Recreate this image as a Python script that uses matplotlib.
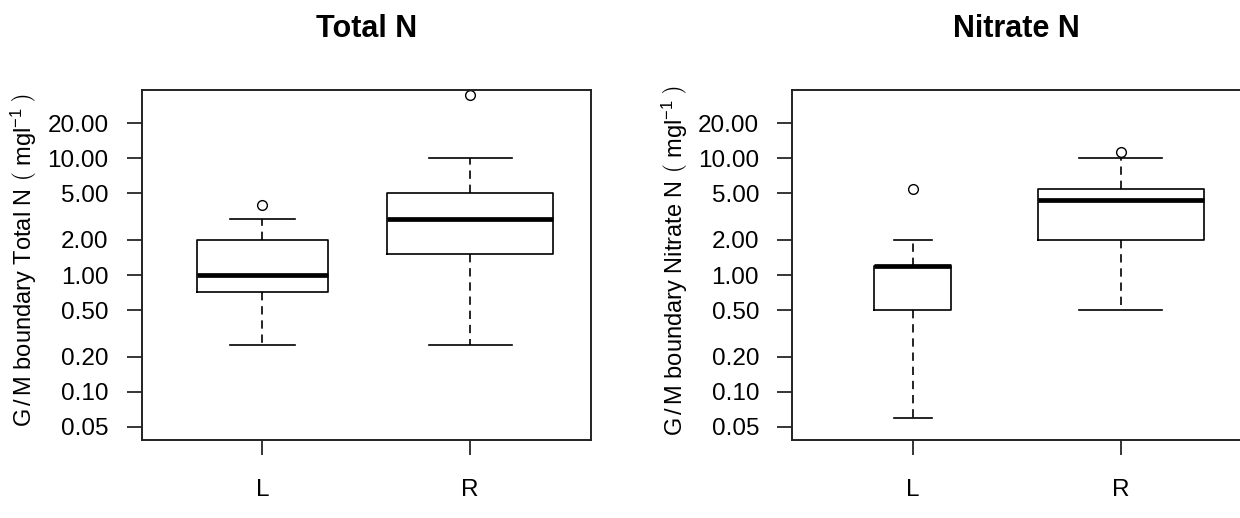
import matplotlib.pyplot as plt
from matplotlib.ticker import FixedLocator, NullLocator

plt.rcParams['font.family'] = ['Liberation Sans', 'DejaVu Sans']
plt.rcParams['mathtext.fontset'] = 'custom'
plt.rcParams['mathtext.rm'] = 'Liberation Sans'
plt.rcParams['mathtext.it'] = 'Liberation Sans'

groups = ['L', 'R']
yticks = [0.05, 0.1, 0.2, 0.5, 1, 2, 5, 10, 20]
ytick_labels = ['0.05', '0.10', '0.20', '0.50', '1.00', '2.00', '5.00', '10.00', '20.00']

# Total N
total_lo = [0.25, 0.25]
total_q1 = [0.72, 1.5]
total_med = [1.0, 3.0]
total_q3 = [2.0, 5.0]
total_hi = [3.0, 10.0]
total_out = [[4.0], [35.0]]
total_widths = [0.63, 0.8]

# Nitrate N
nitrate_lo = [0.06, 0.5]
nitrate_q1 = [0.5, 2.0]
nitrate_med = [1.2, 4.4]
nitrate_q3 = [1.2, 5.5]
nitrate_hi = [2.0, 10.0]
nitrate_out = [[5.5], [11.3]]
nitrate_widths = [0.37, 0.8]


def make_stats(lo, q1, med, q3, hi, out):
    stats = []
    for i in range(len(groups)):
        stats.append(dict(label=groups[i], whislo=lo[i], q1=q1[i], med=med[i],
                          q3=q3[i], whishi=hi[i], fliers=out[i]))
    return stats


def draw_panel(ax, stats, widths, title, ylabel):
    lw = 1.2
    ax.bxp(stats, positions=[1, 2], widths=widths,
           capwidths=[w / 2 for w in widths],
           boxprops=dict(color='black', linewidth=lw),
           medianprops=dict(color='black', linewidth=3.4, solid_capstyle='butt'),
           whiskerprops=dict(color='black', linewidth=lw, linestyle=(0, (5, 3.5))),
           capprops=dict(color='black', linewidth=lw),
           flierprops=dict(marker='o', markerfacecolor='none', markeredgecolor='black',
                           markersize=7, markeredgewidth=1.0))
    ax.set_yscale('log')
    ax.set_ylim(0.0385, 38.6)
    ax.set_xlim(0.42, 2.58)
    ax.yaxis.set_major_locator(FixedLocator(yticks))
    ax.yaxis.set_minor_locator(NullLocator())
    ax.set_yticklabels(ytick_labels)
    ax.set_xticks([1, 2])
    ax.set_xticklabels(groups)
    ax.tick_params(axis='both', labelsize=17.5, length=11, width=1.1, colors='black')
    ax.tick_params(axis='y', pad=13)
    ax.tick_params(axis='x', pad=17)
    for s in ax.spines.values():
        s.set_linewidth(1.4)
        s.set_color('#222222')
    ax.set_title(title, fontsize=22, fontweight='bold', pad=38)
    ax.set_ylabel(ylabel, fontsize=17)
    ax.yaxis.set_label_coords(-0.228, 0.514)


fig = plt.figure(figsize=(12.4, 5.18), dpi=100)
ax1 = fig.add_axes([0.1143, 0.1506, 0.3621, 0.6757])
ax2 = fig.add_axes([0.639, 0.1506, 0.3621, 0.6757])

draw_panel(ax1, make_stats(total_lo, total_q1, total_med, total_q3, total_hi, total_out),
           total_widths, 'Total N',
           r'G$\,$/$\,$M boundary Total N $\left(\ \mathrm{mgl}^{-1}\ \right)$')
draw_panel(ax2, make_stats(nitrate_lo, nitrate_q1, nitrate_med, nitrate_q3, nitrate_hi, nitrate_out),
           nitrate_widths, 'Nitrate N',
           r'G$\,$/$\,$M boundary Nitrate N $\left(\ \mathrm{mgl}^{-1}\ \right)$')

fig.savefig('out.png', dpi=100)
